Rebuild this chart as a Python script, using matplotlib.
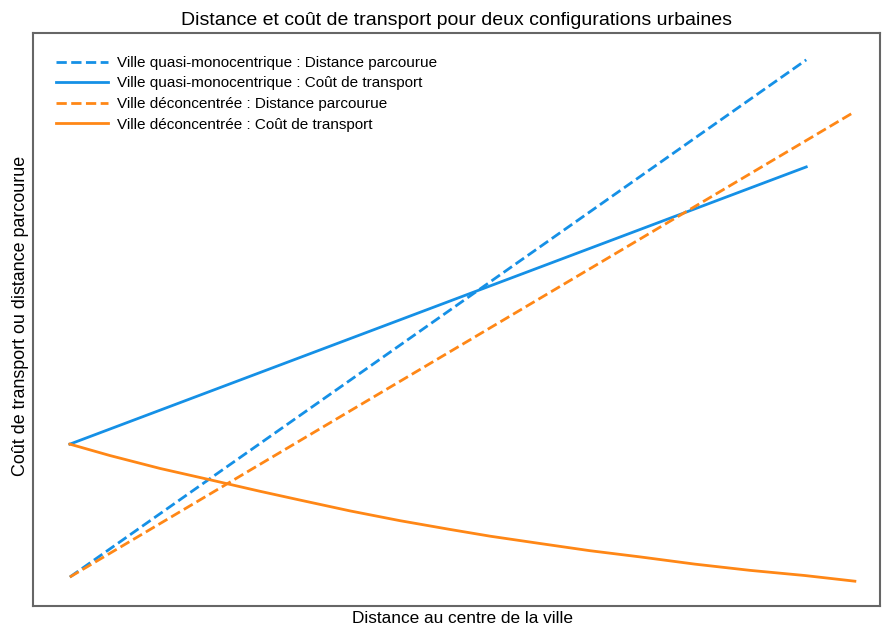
import numpy as np
import matplotlib
matplotlib.use('Agg')
import matplotlib.pyplot as plt

plt.rcParams['font.family'] = ['Liberation Sans', 'DejaVu Sans']

# distance au centre (unités arbitraires)
x_mono = [0.0, 9.39]
x_deconc = [0.0, 10.0]
x_cout_deconc = [0.0, 0.51, 1.15, 1.79, 2.42, 2.93, 3.57, 4.21, 4.85,
                 5.36, 5.99, 6.63, 7.27, 7.97, 8.67, 9.37, 10.01]

dist_mono = [0.0, 100.0]
cout_mono = [25.7, 79.3]
dist_deconc = [0.0, 89.9]
cout_deconc = [25.7, 23.5, 21.0, 18.8, 16.6, 14.9, 12.8, 10.9, 9.2,
               7.9, 6.5, 5.1, 3.9, 2.5, 1.3, 0.3, -0.8]

blue = '#1590e6'
orange = '#ff8716'

fig = plt.figure(figsize=(8.82, 6.28), dpi=100)
ax = fig.add_axes([0.0374, 0.035, 0.9603, 0.9125])

ax.plot(x_mono, dist_mono, '--', color=blue, lw=2, label='Ville quasi-monocentrique : Distance parcourue')
ax.plot(x_mono, cout_mono, '-', color=blue, lw=2, label='Ville quasi-monocentrique : Coût de transport')
ax.plot(x_deconc, dist_deconc, '--', color=orange, lw=2, label='Ville déconcentrée : Distance parcourue')
ax.plot(x_cout_deconc, cout_deconc, '-', color=orange, lw=2, label='Ville déconcentrée : Coût de transport')

ax.set_xlim(-0.47, 10.33)
ax.set_ylim(-5.6, 105.2)
ax.set_xticks([])
ax.set_yticks([])
for s in ax.spines.values():
    s.set_color('#666666')
    s.set_linewidth(1.5)

ax.set_title('Distance et coût de transport pour deux configurations urbaines', fontsize=14, pad=6)
ax.set_xlabel('Distance au centre de la ville', fontsize=12.4)
ax.xaxis.set_label_coords(0.507, -0.008, transform=ax.transAxes)
ax.xaxis.label.set_va('top')
ax.set_ylabel('Coût de transport ou distance parcourue', fontsize=12.9)
ax.yaxis.set_label_coords(-0.005, 0.507, transform=ax.transAxes)

ax.legend(loc='upper left', frameon=False, fontsize=11, handlelength=3.4,
          labelspacing=0.43, borderaxespad=1.1, handletextpad=0.6)

fig.savefig('out.png', dpi=100)
